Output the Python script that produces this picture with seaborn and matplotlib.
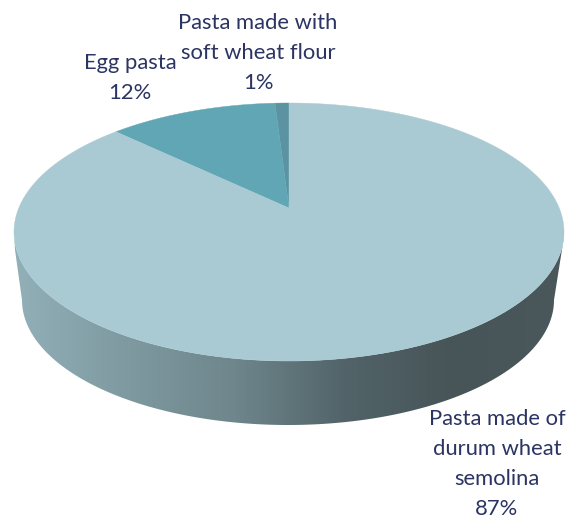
import numpy as np
import seaborn as sns
import matplotlib
matplotlib.use("Agg")
import matplotlib.pyplot as plt
from matplotlib.patches import Polygon

# Share of Italian pasta output by type (percent)
categories = ["Pasta made of\ndurum wheat\nsemolina", "Egg pasta", "Pasta made with\nsoft wheat flour"]
shares = [87, 12, 1]
face_colors = ["#a9cad3", "#60a6b5", "#5c93a2"]
side_colors = ["#92b0b8", "#7f9aa1", "#6e868c", "#526469", "#475458", "#4a585c"]
label_positions = [(497, 464), (130, 78), (258, 53)]
text_color = "#2b3462"

sns.set_theme(style="white")
plt.rcParams["font.family"] = ["Lato", "DejaVu Sans"]

fig = plt.figure(figsize=(5.68, 5.18), dpi=100, facecolor="white")
ax = fig.add_axes([0, 0, 1, 1])
ax.set_xlim(0, 568)
ax.set_ylim(518, 0)
ax.axis("off")

# Projected disc: rim ellipse, the off-centre apex caused by perspective, and the lower rim
cx, cy, rx, ry = 289.0, 232.0, 275.0, 129.0
ax_apex, ay_apex = 289.0, 208.0
bx, by, brx, bry = 288.0, 300.0, 266.0, 125.0


def rim_point(angle):
    """Where a ray leaving the apex at a plan-view angle (clockwise from back) meets the rim."""
    dx, dy = np.sin(angle), -np.cos(angle)
    oy = (ay_apex - cy) / ry
    b = oy * dy
    t = -b + np.sqrt(b * b - (oy * oy - 1.0))
    return cx + rx * t * dx, cy + ry * (oy + t * dy)


# Side wall: a horizontal shading clipped to the visible band
t_top = np.linspace(np.pi, 0, 200)
t_bot = np.linspace(0, np.pi, 200)
side_xy = np.vstack([
    [[15.0, 250.0]],
    np.column_stack([bx + brx * np.cos(t_top), by + bry * np.sin(t_top)]),
    [[563.0, 243.0]],
    np.column_stack([cx + rx * np.cos(t_bot), cy + ry * np.sin(t_bot)]),
])
side = Polygon(side_xy, closed=True, facecolor="none", edgecolor="none")
ax.add_patch(side)
cmap = sns.blend_palette(side_colors, as_cmap=True)
ramp = ax.imshow(np.linspace(0, 1, 512).reshape(1, -1), cmap=cmap, aspect="auto",
                 extent=(14, 564, 430, 220), zorder=1)
ramp.set_clip_path(side)
ax.set_xlim(0, 568)
ax.set_ylim(518, 0)

# Top face: wedges run anticlockwise from the back of the disc, smallest share first
start = 0.0
for share, color in zip(shares[::-1], face_colors[::-1]):
    end = start + share / sum(shares) * 2 * np.pi
    angles = -np.linspace(start, end, max(int(share * 8), 12))
    rim = np.array([rim_point(a) for a in angles])
    wedge_xy = np.vstack([[ax_apex, ay_apex], rim])
    ax.add_patch(Polygon(wedge_xy, closed=True, facecolor=color, edgecolor=color,
                         linewidth=0.3, zorder=2))
    start = end

# Category labels with their percentages
for name, share, (x, y) in zip(categories, shares, label_positions):
    ax.text(x, y, f"{name}\n{share}%", ha="center", va="center", color=text_color,
            fontsize=15.8, linespacing=1.63, zorder=3)

fig.savefig("out.png", dpi=100, facecolor="white")
